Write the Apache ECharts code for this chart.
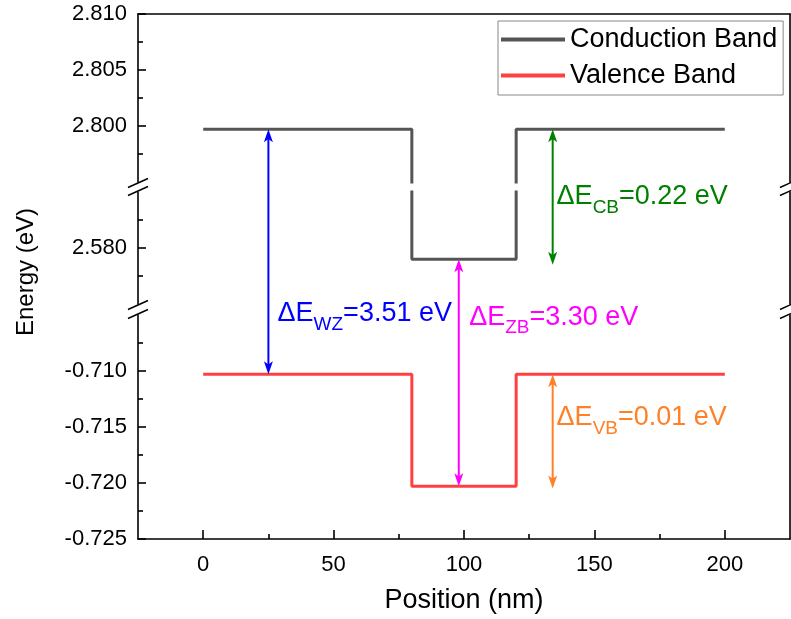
<!DOCTYPE html>
<html><head><meta charset="utf-8">
<script src="https://cdn.jsdelivr.net/npm/echarts@6/dist/echarts.min.js"></script>
<style>html,body{margin:0;padding:0;background:#fff}#c{width:791px;height:619px}</style>
</head><body><div id="c"></div>
<script>
// ---- data ----
const positions = [0, 80, 80, 120, 120, 200];
const conductionBand = [2.7997, 2.7997, 2.579, 2.579, 2.7997, 2.7997];
const valenceBand = [-0.7103, -0.7103, -0.7203, -0.7203, -0.7103, -0.7103];
const xTicks = [0, 50, 100, 150, 200];
const xMinorTicks = [25, 75, 125, 175];
const segMin = [2.795, 2.575, -0.725];
const segMax = [2.810, 2.585, -0.705];
const yTicks = [[2.800, 2.805, 2.810], [2.580], [-0.710, -0.715, -0.720, -0.725]];
const yMinorTicks = [[2.7975, 2.8025, 2.8075], [2.5775, 2.5825], [-0.7075, -0.7125, -0.7175, -0.7225]];
const arrowNames = ['WZ', 'ZB', 'CB', 'VB'];
const arrowX = [25, 98, 134, 134];
const arrowFrom = [2.7997, 2.579, 2.7997, -0.7103];
const arrowTo = [-0.7103, -0.7203, 2.5785, -0.7205];
const arrowValues = ['3.51', '3.30', '0.22', '0.01'];
const labelX = [28.5, 102, 135.5, 135.5];
const labelY = [-0.7049, -0.7052, 2.5846, -0.7142];

// ---- styles ----
const arrowColors = ['#0000ff', '#ff00ff', '#008000', '#ff8026'];
const FONT = '"Liberation Sans", Arial, sans-serif';
const AX = {color: '#000', width: 1.6};
const CB_COLOR = '#555555', VB_COLOR = '#ff4040';

const chart = echarts.init(document.getElementById('c'), null, {renderer: 'canvas'});
const gridLayout = [{top: 14, height: 168}, {top: 192, height: 112}, {top: 315, height: 224}];
const grid = gridLayout.map(g => Object.assign({left: 138, right: 1, outerBoundsMode: 'none', containLabel: false}, g));

const xAxis = [
  {gridIndex: 0, type: 'value', min: -25, max: 225, position: 'top',
   axisLine: {show: true, onZero: false, lineStyle: AX}, axisTick: {show: false}, axisLabel: {show: false}, splitLine: {show: false}},
  {gridIndex: 1, type: 'value', min: -25, max: 225, show: false, splitLine: {show: false}},
  {gridIndex: 2, type: 'value', min: -25, max: 225, position: 'bottom',
   axisLine: {show: true, onZero: false, lineStyle: AX},
   axisTick: {show: true, inside: true, length: 9, customValues: xTicks, lineStyle: AX},
   axisLabel: {show: true, customValues: xTicks, margin: 15, fontSize: 22, color: '#000', fontFamily: FONT},
   splitLine: {show: false},
   name: 'Position (nm)', nameLocation: 'middle', nameGap: 48,
   nameTextStyle: {fontSize: 27, color: '#000', fontFamily: FONT}},
  {gridIndex: 2, type: 'value', min: -25, max: 225, position: 'bottom',
   axisLine: {show: false, onZero: false},
   axisTick: {show: true, inside: true, length: 5, customValues: xMinorTicks, lineStyle: AX},
   axisLabel: {show: false}, splitLine: {show: false}}
];
const yAxis = [];
for (let g = 0; g < 3; g++) {
  yAxis.push({gridIndex: g, type: 'value', min: segMin[g], max: segMax[g], position: 'left',
    axisLine: {show: true, onZero: false, lineStyle: AX},
    axisTick: {show: true, inside: true, length: 8, customValues: yTicks[g], lineStyle: AX},
    axisLabel: {show: true, customValues: yTicks[g], margin: 11, fontSize: 22, color: '#000', fontFamily: FONT,
      formatter: v => Number(v).toFixed(3)},
    splitLine: {show: false}});
  yAxis.push({gridIndex: g, type: 'value', min: segMin[g], max: segMax[g], position: 'left',
    axisLine: {show: false, onZero: false},
    axisTick: {show: true, inside: true, length: 5, customValues: yMinorTicks[g], lineStyle: AX},
    axisLabel: {show: false}, splitLine: {show: false}});
  yAxis.push({gridIndex: g, type: 'value', min: segMin[g], max: segMax[g], position: 'right',
    axisLine: {show: true, onZero: false, lineStyle: AX}, axisTick: {show: false}, axisLabel: {show: false},
    splitLine: {show: false}});
}
const cbData = positions.map((x, i) => [x, conductionBand[i]]);
const vbData = positions.map((x, i) => [x, valenceBand[i]]);
const lineBase = {type: 'line', symbol: 'none', showSymbol: false, clip: true, animation: false, z: 3};
const series = [
  Object.assign({name: 'Conduction Band', xAxisIndex: 0, yAxisIndex: 0, data: cbData,
    lineStyle: {color: CB_COLOR, width: 3}, itemStyle: {color: CB_COLOR}}, lineBase),
  Object.assign({name: 'Conduction Band', xAxisIndex: 1, yAxisIndex: 3, data: cbData,
    lineStyle: {color: CB_COLOR, width: 3}, itemStyle: {color: CB_COLOR}}, lineBase),
  Object.assign({name: 'Valence Band', xAxisIndex: 2, yAxisIndex: 6, data: vbData,
    lineStyle: {color: VB_COLOR, width: 3}, itemStyle: {color: VB_COLOR}}, lineBase)
];

chart.setOption({
  animation: false,
  backgroundColor: '#fff',
  grid, xAxis, yAxis, series,
  legend: {
    data: ['Conduction Band', 'Valence Band'], orient: 'vertical', left: 498, top: 21,
    padding: [5, 6, 6, 3], itemGap: 9, itemWidth: 64, itemHeight: 4, icon: 'rect', selectedMode: false,
    borderColor: '#888', borderWidth: 1, borderRadius: 0, backgroundColor: '#fff',
    textStyle: {fontSize: 27, color: '#000', fontFamily: FONT}
  }
});

// ---- annotations through the library's scales ----
const axisIdx = [[0, 0], [1, 3], [2, 6]];
function segOf(v) {
  let best = 0, bd = Infinity;
  for (let i = 0; i < 3; i++) {
    const d = v < segMin[i] ? segMin[i] - v : (v > segMax[i] ? v - segMax[i] : 0);
    if (d < bd) { bd = d; best = i; }
  }
  return best;
}
function toPx(x, y) {
  const s = segOf(y);
  return chart.convertToPixel({xAxisIndex: axisIdx[s][0], yAxisIndex: axisIdx[s][1]}, [x, y]);
}
const graphic = [];
const L = 13, W = 9;
for (let i = 0; i < arrowX.length; i++) {
  const p1 = toPx(arrowX[i], arrowFrom[i]);
  const p2 = toPx(arrowX[i], arrowTo[i]);
  const d = Math.sign(p2[1] - p1[1]);
  const c = arrowColors[i];
  graphic.push({type: 'line', z: 10, shape: {x1: p1[0], y1: p1[1] + d * L * 0.7, x2: p2[0], y2: p2[1] - d * L * 0.7},
    style: {stroke: c, lineWidth: 2}});
  graphic.push({type: 'polygon', z: 10, shape: {points: [[p1[0], p1[1]], [p1[0] - W / 2, p1[1] + d * L], [p1[0], p1[1] + d * L * 0.75], [p1[0] + W / 2, p1[1] + d * L]]},
    style: {fill: c}});
  graphic.push({type: 'polygon', z: 10, shape: {points: [[p2[0], p2[1]], [p2[0] - W / 2, p2[1] - d * L], [p2[0], p2[1] - d * L * 0.75], [p2[0] + W / 2, p2[1] - d * L]]},
    style: {fill: c}});
  const lp = toPx(labelX[i], labelY[i]);
  graphic.push({type: 'text', z: 10, x: lp[0], y: lp[1],
    style: {
      text: '{m|\u0394E}{s|' + arrowNames[i] + '}{m|=' + arrowValues[i] + ' eV}',
      align: 'left', verticalAlign: 'middle',
      rich: {
        m: {fontSize: 27, fontFamily: FONT, fill: c},
        s: {fontSize: 19, fontFamily: FONT, fill: c, padding: [22, 0, 0, 0]}
      }
    }});
}
// axis breaks (decorative slashes on left and right frame)
const gridRects = grid.map(g => ({top: g.top, bottom: g.top + g.height}));
const frameX = [138, 790];
for (let b = 0; b < 2; b++) {
  const ys = [gridRects[b].bottom + 1, gridRects[b + 1].top - 1];
  for (const fx of frameX) {
    for (const y of ys) {
      graphic.push({type: 'line', z: 20, shape: {x1: fx - 10, y1: y + 4.5, x2: fx + 10, y2: y - 4.5},
        style: {stroke: '#000', lineWidth: 1.5}});
    }
  }
}
graphic.push({type: 'text', z: 10, x: 26, y: 272, rotation: Math.PI / 2,
  style: {text: 'Energy (eV)', align: 'center', verticalAlign: 'middle', fontSize: 24, fontFamily: FONT, fill: '#000'}});
chart.setOption({graphic});
</script>
</body></html>
